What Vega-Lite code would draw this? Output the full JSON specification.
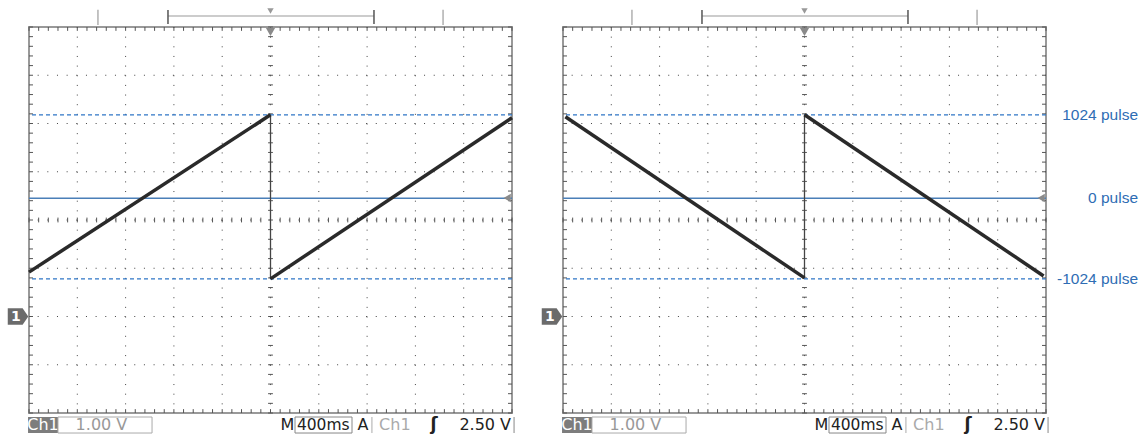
{
  "$schema": "https://vega.github.io/schema/vega-lite/v6.json",
  "background": "white",
  "padding": {"left": 6, "top": 7, "right": 4, "bottom": 0},
  "spacing": 51,
  "bounds": "flush",
  "config": {
    "view": {"stroke": "#999", "strokeWidth": 2},
    "text": {"font": "DejaVu Sans", "fontSize": 15}
  },
  "datasets": {
    "xmajor": [{"t":-1.6},{"t":-1.2},{"t":-0.8},{"t":-0.4},{"t":0},{"t":0.4},{"t":0.8},{"t":1.2},{"t":1.6}],
    "ymajor": [{"v":-1},{"v":0},{"v":1},{"v":2},{"v":3},{"v":4},{"v":5}],
    "xminor": [{"t":-2},{"t":-1.92},{"t":-1.84},{"t":-1.76},{"t":-1.68},{"t":-1.6},{"t":-1.52},{"t":-1.44},{"t":-1.36},{"t":-1.28},{"t":-1.2},{"t":-1.12},{"t":-1.04},{"t":-0.96},{"t":-0.88},{"t":-0.8},{"t":-0.72},{"t":-0.64},{"t":-0.56},{"t":-0.48},{"t":-0.4},{"t":-0.32},{"t":-0.24},{"t":-0.16},{"t":-0.08},{"t":0},{"t":0.08},{"t":0.16},{"t":0.24},{"t":0.32},{"t":0.4},{"t":0.48},{"t":0.56},{"t":0.64},{"t":0.72},{"t":0.8},{"t":0.88},{"t":0.96},{"t":1.04},{"t":1.12},{"t":1.2},{"t":1.28},{"t":1.36},{"t":1.44},{"t":1.52},{"t":1.6},{"t":1.68},{"t":1.76},{"t":1.84},{"t":1.92},{"t":2}],
    "yminor": [{"v":-2},{"v":-1.8},{"v":-1.6},{"v":-1.4},{"v":-1.2},{"v":-1},{"v":-0.8},{"v":-0.6},{"v":-0.4},{"v":-0.2},{"v":0},{"v":0.2},{"v":0.4},{"v":0.6},{"v":0.8},{"v":1},{"v":1.2},{"v":1.4},{"v":1.6},{"v":1.8},{"v":2},{"v":2.2},{"v":2.4},{"v":2.6},{"v":2.8},{"v":3},{"v":3.2},{"v":3.4},{"v":3.6},{"v":3.8},{"v":4},{"v":4.2},{"v":4.4},{"v":4.6},{"v":4.8},{"v":5},{"v":5.2},{"v":5.4},{"v":5.6},{"v":5.8},{"v":6}],
    "traceL": [{"t":-2,"v":0.92,"seg":"a"},{"t":0,"v":4.18,"seg":"a"},{"t":0,"v":0.78,"seg":"b"},{"t":2,"v":4.12,"seg":"b"}],
    "jumpL": [{"t":0,"v1":4.18,"v2":0.78}],
    "traceR": [{"t":-1.98,"v":4.14,"seg":"a"},{"t":0,"v":0.8,"seg":"a"},{"t":0,"v":4.18,"seg":"b"},{"t":1.98,"v":0.84,"seg":"b"}],
    "jumpR": [{"t":0,"v1":0.8,"v2":4.18}],
    "levels": [{"label":"1024 pulse","v":4.18,"kind":"dash"},{"label":"0 pulse","v":2.45,"kind":"solid"},{"label":"-1024 pulse","v":0.78,"kind":"dash"}]
  },
  "hconcat": [
    {
      "width": 483, "height": 386,
      "layer": [
        {"data":{"name":"xmajor"},"mark":{"type":"rule","color":"#444","strokeWidth":1,"strokeDash":[1,8.65]},
         "encoding":{"x":{"field":"t","type":"quantitative","scale":{"domain":[-2,2],"nice":false,"zero":false},"axis":null}}},
        {"data":{"name":"ymajor"},"mark":{"type":"rule","color":"#444","strokeWidth":1,"strokeDash":[1,8.66]},
         "encoding":{"y":{"field":"v","type":"quantitative","scale":{"domain":[-2,6],"nice":false,"zero":false},"axis":null}}},
        {"data":{"name":"xminor"},"mark":{"type":"rule","color":"#555","strokeWidth":1},
         "encoding":{"x":{"field":"t","type":"quantitative","axis":null},"y":{"datum":6,"axis":null},"y2":{"datum":5.92}}},
        {"data":{"name":"xminor"},"mark":{"type":"rule","color":"#555","strokeWidth":1},
         "encoding":{"x":{"field":"t","type":"quantitative","axis":null},"y":{"datum":-2,"axis":null},"y2":{"datum":-1.92}}},
        {"data":{"name":"xminor"},"mark":{"type":"rule","color":"#555","strokeWidth":1},
         "encoding":{"x":{"field":"t","type":"quantitative","axis":null},"y":{"datum":1.95,"axis":null},"y2":{"datum":2.05}}},
        {"data":{"name":"yminor"},"mark":{"type":"rule","color":"#555","strokeWidth":1},
         "encoding":{"y":{"field":"v","type":"quantitative","axis":null},"x":{"datum":-2,"axis":null},"x2":{"datum":-1.967}}},
        {"data":{"name":"yminor"},"mark":{"type":"rule","color":"#555","strokeWidth":1},
         "encoding":{"y":{"field":"v","type":"quantitative","axis":null},"x":{"datum":2,"axis":null},"x2":{"datum":1.967}}},
        {"data":{"name":"yminor"},"mark":{"type":"rule","color":"#555","strokeWidth":1},
         "encoding":{"y":{"field":"v","type":"quantitative","axis":null},"x":{"datum":-0.02,"axis":null},"x2":{"datum":0.02}}},
        {"data":{"name":"levels"},"transform":[{"filter":"datum.kind == 'dash'"}],"mark":{"type":"rule","color":"#2f76c6","strokeWidth":1.2,"strokeDash":[4,3]},
         "encoding":{"y":{"field":"v","type":"quantitative","axis":null}}},
        {"data":{"name":"levels"},"transform":[{"filter":"datum.kind == 'solid'"}],"mark":{"type":"rule","color":"#4a7fb8","strokeWidth":1.5},
         "encoding":{"y":{"field":"v","type":"quantitative","axis":null}}},
        {"data":{"name":"jumpL"},"mark":{"type":"rule","color":"#444","strokeWidth":1.3},
         "encoding":{"x":{"field":"t","type":"quantitative","axis":null},"y":{"field":"v1","type":"quantitative","axis":null},"y2":{"field":"v2"}}},
        {"data":{"name":"traceL"},"mark":{"type":"line","color":"#2a2a2a","strokeWidth":3.5},
         "encoding":{"x":{"field":"t","type":"quantitative","axis":null},"y":{"field":"v","type":"quantitative","axis":null},"detail":{"field":"seg"}}},
        {"data":{"values":[{}]},"mark":{"type":"point","shape":"triangle-down","filled":true,"color":"#8a8a8a","opacity":1,"size":90,"clip":false},
         "encoding":{"x":{"datum":0,"axis":null},"y":{"datum":5.9,"axis":null}}},
        {"data":{"values":[{}]},"mark":{"type":"point","shape":"triangle-left","filled":true,"color":"#8a8a8a","opacity":1,"size":70,"clip":false},
         "encoding":{"x":{"datum":1.96,"axis":null},"y":{"datum":2.456,"axis":null}}},
        {"data":{"values":[{}]},"mark":{"type":"point","shape":"M-1,-0.8L0.45,-0.8L1,0L0.45,0.8L-1,0.8Z","filled":true,"color":"#6b6b6b","opacity":1,"size":420,"clip":false},
         "encoding":{"x":{"datum":-2.091,"axis":null},"y":{"datum":0,"axis":null}}},
        {"data":{"values":[{}]},"mark":{"type":"text","text":"1","color":"white","fontWeight":"bold","fontSize":14,"align":"center","baseline":"middle","clip":false},
         "encoding":{"x":{"datum":-2.108,"axis":null},"y":{"datum":0,"axis":null}}},
        {"data":{"values":[{}]},"mark":{"type":"rule","color":"#b0b0b0","strokeWidth":1.5,"clip":false},
         "encoding":{"x":{"datum":-1.429,"axis":null},"y":{"datum":6.36,"axis":null},"y2":{"datum":6.04}}},
        {"data":{"values":[{}]},"mark":{"type":"rule","color":"#b0b0b0","strokeWidth":1.5,"clip":false},
         "encoding":{"x":{"datum":1.429,"axis":null},"y":{"datum":6.36,"axis":null},"y2":{"datum":6.04}}},
        {"data":{"values":[{}]},"mark":{"type":"rule","color":"#999","strokeWidth":1.2,"clip":false},
         "encoding":{"x":{"datum":-0.849,"axis":null},"x2":{"datum":0.857},"y":{"datum":6.228,"axis":null}}},
        {"data":{"values":[{}]},"mark":{"type":"rule","color":"#555","strokeWidth":1.5,"clip":false},
         "encoding":{"x":{"datum":-0.849,"axis":null},"y":{"datum":6.352,"axis":null},"y2":{"datum":6.062}}},
        {"data":{"values":[{}]},"mark":{"type":"rule","color":"#555","strokeWidth":1.5,"clip":false},
         "encoding":{"x":{"datum":0.857,"axis":null},"y":{"datum":6.352,"axis":null},"y2":{"datum":6.062}}},
        {"data":{"values":[{}]},"mark":{"type":"point","shape":"triangle-down","filled":true,"color":"#999","opacity":1,"size":40,"clip":false},
         "encoding":{"x":{"datum":0,"axis":null},"y":{"datum":6.33,"axis":null}}},
        {"data":{"values":[{}]},"mark":{"type":"rect","color":"#7d7d7d","clip":false},
         "encoding":{"x":{"datum":-2.008,"axis":null},"x2":{"datum":-1.76},"y":{"datum":-2.083,"axis":null},"y2":{"datum":-2.415}}},
        {"data":{"values":[{}]},"mark":{"type":"text","text":"Ch1","color":"white","fontSize":16,"align":"center","baseline":"middle","clip":false},
         "encoding":{"x":{"datum":-1.884,"axis":null},"y":{"datum":-2.25,"axis":null}}},
        {"data":{"values":[{}]},"mark":{"type":"rect","fillOpacity":0,"stroke":"#aaa","strokeWidth":1,"clip":false},
         "encoding":{"x":{"datum":-1.76,"axis":null},"x2":{"datum":-0.981},"y":{"datum":-2.083,"axis":null},"y2":{"datum":-2.415}}},
        {"data":{"values":[{}]},"mark":{"type":"text","text":"1.00 V","color":"#999","fontSize":16,"align":"center","baseline":"middle","clip":false},
         "encoding":{"x":{"datum":-1.4,"axis":null},"y":{"datum":-2.25,"axis":null}}},
        {"data":{"values":[{}]},"mark":{"type":"text","text":"M","color":"#222","fontSize":16,"align":"center","baseline":"middle","clip":false},
         "encoding":{"x":{"datum":0.14,"axis":null},"y":{"datum":-2.25,"axis":null}}},
        {"data":{"values":[{}]},"mark":{"type":"rect","fillOpacity":0,"stroke":"#888","strokeWidth":1,"clip":false},
         "encoding":{"x":{"datum":0.203,"axis":null},"x2":{"datum":0.675},"y":{"datum":-2.083,"axis":null},"y2":{"datum":-2.415}}},
        {"data":{"values":[{}]},"mark":{"type":"text","text":"400ms","color":"#222","fontSize":15.5,"align":"center","baseline":"middle","clip":false},
         "encoding":{"x":{"datum":0.437,"axis":null},"y":{"datum":-2.25,"axis":null}}},
        {"data":{"values":[{}]},"mark":{"type":"text","text":"A","color":"#222","fontSize":16,"align":"center","baseline":"middle","clip":false},
         "encoding":{"x":{"datum":0.766,"axis":null},"y":{"datum":-2.25,"axis":null}}},
        {"data":{"values":[{}]},"mark":{"type":"rule","color":"#aaa","strokeWidth":1,"clip":false},
         "encoding":{"x":{"datum":0.84,"axis":null},"y":{"datum":-2.083,"axis":null},"y2":{"datum":-2.415}}},
        {"data":{"values":[{}]},"mark":{"type":"text","text":"Ch1","color":"#aaa","fontSize":16,"align":"center","baseline":"middle","clip":false},
         "encoding":{"x":{"datum":1.03,"axis":null},"y":{"datum":-2.25,"axis":null}}},
        {"data":{"values":[{}]},"mark":{"type":"text","text":"ʃ","color":"#222","fontSize":17,"fontWeight":"bold","align":"center","baseline":"middle","clip":false},
         "encoding":{"x":{"datum":1.354,"axis":null},"y":{"datum":-2.25,"axis":null}}},
        {"data":{"values":[{}]},"mark":{"type":"text","text":"2.50 V","color":"#222","fontSize":16,"align":"right","baseline":"middle","clip":false},
         "encoding":{"x":{"datum":1.992,"axis":null},"y":{"datum":-2.25,"axis":null}}},
        {"data":{"values":[{}]},"mark":{"type":"rule","color":"#888","strokeWidth":1,"clip":false},
         "encoding":{"x":{"datum":2.017,"axis":null},"y":{"datum":-2.083,"axis":null},"y2":{"datum":-2.415}}}
      ]
    },
    {
      "width": 483, "height": 386,
      "layer": [
        {"data":{"name":"xmajor"},"mark":{"type":"rule","color":"#444","strokeWidth":1,"strokeDash":[1,8.65]},
         "encoding":{"x":{"field":"t","type":"quantitative","scale":{"domain":[-2,2],"nice":false,"zero":false},"axis":null}}},
        {"data":{"name":"ymajor"},"mark":{"type":"rule","color":"#444","strokeWidth":1,"strokeDash":[1,8.66]},
         "encoding":{"y":{"field":"v","type":"quantitative","scale":{"domain":[-2,6],"nice":false,"zero":false},"axis":null}}},
        {"data":{"name":"xminor"},"mark":{"type":"rule","color":"#555","strokeWidth":1},
         "encoding":{"x":{"field":"t","type":"quantitative","axis":null},"y":{"datum":6,"axis":null},"y2":{"datum":5.92}}},
        {"data":{"name":"xminor"},"mark":{"type":"rule","color":"#555","strokeWidth":1},
         "encoding":{"x":{"field":"t","type":"quantitative","axis":null},"y":{"datum":-2,"axis":null},"y2":{"datum":-1.92}}},
        {"data":{"name":"xminor"},"mark":{"type":"rule","color":"#555","strokeWidth":1},
         "encoding":{"x":{"field":"t","type":"quantitative","axis":null},"y":{"datum":1.95,"axis":null},"y2":{"datum":2.05}}},
        {"data":{"name":"yminor"},"mark":{"type":"rule","color":"#555","strokeWidth":1},
         "encoding":{"y":{"field":"v","type":"quantitative","axis":null},"x":{"datum":-2,"axis":null},"x2":{"datum":-1.967}}},
        {"data":{"name":"yminor"},"mark":{"type":"rule","color":"#555","strokeWidth":1},
         "encoding":{"y":{"field":"v","type":"quantitative","axis":null},"x":{"datum":2,"axis":null},"x2":{"datum":1.967}}},
        {"data":{"name":"yminor"},"mark":{"type":"rule","color":"#555","strokeWidth":1},
         "encoding":{"y":{"field":"v","type":"quantitative","axis":null},"x":{"datum":-0.02,"axis":null},"x2":{"datum":0.02}}},
        {"data":{"name":"levels"},"transform":[{"filter":"datum.kind == 'dash'"}],"mark":{"type":"rule","color":"#2f76c6","strokeWidth":1.2,"strokeDash":[4,3]},
         "encoding":{"y":{"field":"v","type":"quantitative","axis":null}}},
        {"data":{"name":"levels"},"transform":[{"filter":"datum.kind == 'solid'"}],"mark":{"type":"rule","color":"#4a7fb8","strokeWidth":1.5},
         "encoding":{"y":{"field":"v","type":"quantitative","axis":null}}},
        {"data":{"name":"levels"},"mark":{"type":"text","align":"right","baseline":"middle","font":"Liberation Sans","fontSize":15.5,"color":"#2e6db4","clip":false},
         "encoding":{"y":{"field":"v","type":"quantitative","axis":null},"x":{"datum":2.762,"axis":null},"text":{"field":"label"}}},
        {"data":{"name":"jumpR"},"mark":{"type":"rule","color":"#444","strokeWidth":1.3},
         "encoding":{"x":{"field":"t","type":"quantitative","axis":null},"y":{"field":"v1","type":"quantitative","axis":null},"y2":{"field":"v2"}}},
        {"data":{"name":"traceR"},"mark":{"type":"line","color":"#2a2a2a","strokeWidth":3.5},
         "encoding":{"x":{"field":"t","type":"quantitative","axis":null},"y":{"field":"v","type":"quantitative","axis":null},"detail":{"field":"seg"}}},
        {"data":{"values":[{}]},"mark":{"type":"point","shape":"triangle-down","filled":true,"color":"#8a8a8a","opacity":1,"size":90,"clip":false},
         "encoding":{"x":{"datum":0,"axis":null},"y":{"datum":5.9,"axis":null}}},
        {"data":{"values":[{}]},"mark":{"type":"point","shape":"triangle-left","filled":true,"color":"#8a8a8a","opacity":1,"size":70,"clip":false},
         "encoding":{"x":{"datum":1.96,"axis":null},"y":{"datum":2.456,"axis":null}}},
        {"data":{"values":[{}]},"mark":{"type":"point","shape":"M-1,-0.8L0.45,-0.8L1,0L0.45,0.8L-1,0.8Z","filled":true,"color":"#6b6b6b","opacity":1,"size":420,"clip":false},
         "encoding":{"x":{"datum":-2.091,"axis":null},"y":{"datum":0,"axis":null}}},
        {"data":{"values":[{}]},"mark":{"type":"text","text":"1","color":"white","fontWeight":"bold","fontSize":14,"align":"center","baseline":"middle","clip":false},
         "encoding":{"x":{"datum":-2.108,"axis":null},"y":{"datum":0,"axis":null}}},
        {"data":{"values":[{}]},"mark":{"type":"rule","color":"#b0b0b0","strokeWidth":1.5,"clip":false},
         "encoding":{"x":{"datum":-1.429,"axis":null},"y":{"datum":6.36,"axis":null},"y2":{"datum":6.04}}},
        {"data":{"values":[{}]},"mark":{"type":"rule","color":"#b0b0b0","strokeWidth":1.5,"clip":false},
         "encoding":{"x":{"datum":1.429,"axis":null},"y":{"datum":6.36,"axis":null},"y2":{"datum":6.04}}},
        {"data":{"values":[{}]},"mark":{"type":"rule","color":"#999","strokeWidth":1.2,"clip":false},
         "encoding":{"x":{"datum":-0.849,"axis":null},"x2":{"datum":0.857},"y":{"datum":6.228,"axis":null}}},
        {"data":{"values":[{}]},"mark":{"type":"rule","color":"#555","strokeWidth":1.5,"clip":false},
         "encoding":{"x":{"datum":-0.849,"axis":null},"y":{"datum":6.352,"axis":null},"y2":{"datum":6.062}}},
        {"data":{"values":[{}]},"mark":{"type":"rule","color":"#555","strokeWidth":1.5,"clip":false},
         "encoding":{"x":{"datum":0.857,"axis":null},"y":{"datum":6.352,"axis":null},"y2":{"datum":6.062}}},
        {"data":{"values":[{}]},"mark":{"type":"point","shape":"triangle-down","filled":true,"color":"#999","opacity":1,"size":40,"clip":false},
         "encoding":{"x":{"datum":0,"axis":null},"y":{"datum":6.33,"axis":null}}},
        {"data":{"values":[{}]},"mark":{"type":"rect","color":"#7d7d7d","clip":false},
         "encoding":{"x":{"datum":-2.008,"axis":null},"x2":{"datum":-1.76},"y":{"datum":-2.083,"axis":null},"y2":{"datum":-2.415}}},
        {"data":{"values":[{}]},"mark":{"type":"text","text":"Ch1","color":"white","fontSize":16,"align":"center","baseline":"middle","clip":false},
         "encoding":{"x":{"datum":-1.884,"axis":null},"y":{"datum":-2.25,"axis":null}}},
        {"data":{"values":[{}]},"mark":{"type":"rect","fillOpacity":0,"stroke":"#aaa","strokeWidth":1,"clip":false},
         "encoding":{"x":{"datum":-1.76,"axis":null},"x2":{"datum":-0.981},"y":{"datum":-2.083,"axis":null},"y2":{"datum":-2.415}}},
        {"data":{"values":[{}]},"mark":{"type":"text","text":"1.00 V","color":"#999","fontSize":16,"align":"center","baseline":"middle","clip":false},
         "encoding":{"x":{"datum":-1.4,"axis":null},"y":{"datum":-2.25,"axis":null}}},
        {"data":{"values":[{}]},"mark":{"type":"text","text":"M","color":"#222","fontSize":16,"align":"center","baseline":"middle","clip":false},
         "encoding":{"x":{"datum":0.14,"axis":null},"y":{"datum":-2.25,"axis":null}}},
        {"data":{"values":[{}]},"mark":{"type":"rect","fillOpacity":0,"stroke":"#888","strokeWidth":1,"clip":false},
         "encoding":{"x":{"datum":0.203,"axis":null},"x2":{"datum":0.675},"y":{"datum":-2.083,"axis":null},"y2":{"datum":-2.415}}},
        {"data":{"values":[{}]},"mark":{"type":"text","text":"400ms","color":"#222","fontSize":15.5,"align":"center","baseline":"middle","clip":false},
         "encoding":{"x":{"datum":0.437,"axis":null},"y":{"datum":-2.25,"axis":null}}},
        {"data":{"values":[{}]},"mark":{"type":"text","text":"A","color":"#222","fontSize":16,"align":"center","baseline":"middle","clip":false},
         "encoding":{"x":{"datum":0.766,"axis":null},"y":{"datum":-2.25,"axis":null}}},
        {"data":{"values":[{}]},"mark":{"type":"rule","color":"#aaa","strokeWidth":1,"clip":false},
         "encoding":{"x":{"datum":0.84,"axis":null},"y":{"datum":-2.083,"axis":null},"y2":{"datum":-2.415}}},
        {"data":{"values":[{}]},"mark":{"type":"text","text":"Ch1","color":"#aaa","fontSize":16,"align":"center","baseline":"middle","clip":false},
         "encoding":{"x":{"datum":1.03,"axis":null},"y":{"datum":-2.25,"axis":null}}},
        {"data":{"values":[{}]},"mark":{"type":"text","text":"ʃ","color":"#222","fontSize":17,"fontWeight":"bold","align":"center","baseline":"middle","clip":false},
         "encoding":{"x":{"datum":1.354,"axis":null},"y":{"datum":-2.25,"axis":null}}},
        {"data":{"values":[{}]},"mark":{"type":"text","text":"2.50 V","color":"#222","fontSize":16,"align":"right","baseline":"middle","clip":false},
         "encoding":{"x":{"datum":1.992,"axis":null},"y":{"datum":-2.25,"axis":null}}},
        {"data":{"values":[{}]},"mark":{"type":"rule","color":"#888","strokeWidth":1,"clip":false},
         "encoding":{"x":{"datum":2.017,"axis":null},"y":{"datum":-2.083,"axis":null},"y2":{"datum":-2.415}}}
      ]
    }
  ]
}
